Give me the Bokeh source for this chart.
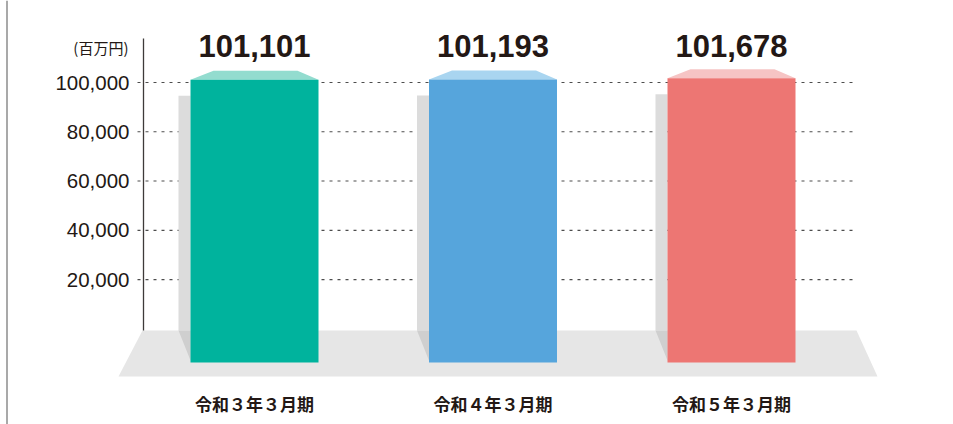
from bokeh.plotting import figure
from bokeh.models import Range1d
from bokeh.core.properties import value
from bokeh.embed import file_html
from bokeh.resources import INLINE

# ---- data ----
categories = ["令和３年３月期", "令和４年３月期", "令和５年３月期"]
values = [101101, 101193, 101678]
value_labels = ["101,101", "101,193", "101,678"]
y_ticks = [20000, 40000, 60000, 80000, 100000]
y_tick_labels = ["20,000", "40,000", "60,000", "80,000", "100,000"]
unit_label = "(百万円)"

# ---- styles ----
front_colors = ["#00b39d", "#56a5dc", "#ed7673"]
top_colors = ["#93dccf", "#a9d5f0", "#f6c4c4"]
TXT = "#231815"

W, H = 953, 424
PX_X = 238.5          # px per category step
PX_Y = 0.002463       # px per value unit
ORG_X = 254           # screen x of first category
ORG_Y = 328.3         # screen y of value 0
x0 = -ORG_X / PX_X
y_top = ORG_Y / PX_Y
y_bot = (ORG_Y - H) / PX_Y

def dx(px):
    return px / PX_X

def dy(px):
    return px / PX_Y

def sx(px):
    return (px - ORG_X) / PX_X

def sy(px):
    return (ORG_Y - px) / PX_Y

p = figure(width=W, height=H, output_backend="svg", toolbar_location=None,
           x_range=Range1d(x0, x0 + dx(W)), y_range=Range1d(y_bot, y_top),
           x_axis_location=None, y_axis_location=None, min_border=0)
p.grid.visible = False
p.outline_line_color = None
p.background_fill_color = "white"
p.border_fill_color = "white"

xs = list(range(len(categories)))
half = dx(64)

# left page rule
p.segment(x0=sx(6.5), y0=y_bot, x1=sx(6.5), y1=y_top, line_color="#8c8c8c", line_width=1.5)

# floor
floor_top = sy(330)
floor_bot = sy(376)
p.patch(x=[sx(142), sx(856), sx(877), sx(118)],
        y=[floor_top, floor_top, floor_bot, floor_bot],
        fill_color="#e6e6e6", line_color=None)

# dotted gridlines
p.segment(x0=[sx(137)] * len(y_ticks), y0=y_ticks,
          x1=[sx(852)] * len(y_ticks), y1=y_ticks,
          line_color="#4d4d4d", line_width=1.2, line_dash="3 5")

# y axis line
p.segment(x0=sx(143), y0=floor_top, x1=sx(143), y1=sy(38),
          line_color="#3e3a39", line_width=1.3)

# tick labels
p.text(x=[sx(129)] * len(y_ticks), y=y_ticks, text=y_tick_labels,
       text_align="right", text_baseline="middle", text_font=value("Liberation Sans"),
       text_font_size="20.5px", text_color=TXT)
p.text(x=[sx(128)], y=[sy(47)], text=[unit_label],
       text_align="right", text_baseline="middle", text_font=value("Noto Sans CJK JP"),
       text_font_size="15px", text_color=TXT)

bar_bottom = sy(362)
for i, v in enumerate(values):
    L = i - half
    R = i + half
    # back shadow
    p.quad(left=[L - dx(12)], right=[L], bottom=[floor_top], top=[v - dy(16)],
           fill_color="#dcdcdc", line_color=None)
    p.patch(x=[L - dx(12), L, L], y=[floor_top, floor_top, sy(360)],
            fill_color="#cfcfcf", line_color=None)
    # top face
    p.patch(x=[L, L + dx(23), R - dx(21), R], y=[v, v + dy(9), v + dy(9), v],
            fill_color=top_colors[i], line_color=None)
    # front face
    p.quad(left=[L], right=[R], bottom=[bar_bottom], top=[v],
           fill_color=front_colors[i], line_color=None)

# value labels
p.text(x=xs, y=[sy(45)] * len(xs), text=value_labels,
       text_align="center", text_baseline="middle", text_font=value("Liberation Sans"),
       text_font_style="bold", text_font_size="31px", text_color=TXT)

# category labels
p.text(x=xs, y=[sy(403)] * len(xs), text=categories,
       text_align="center", text_baseline="middle", text_font=value("Noto Sans CJK JP"),
       text_font_style="bold", text_font_size="17px", text_color=TXT)

open("out.html", "w").write(file_html(p, INLINE))
